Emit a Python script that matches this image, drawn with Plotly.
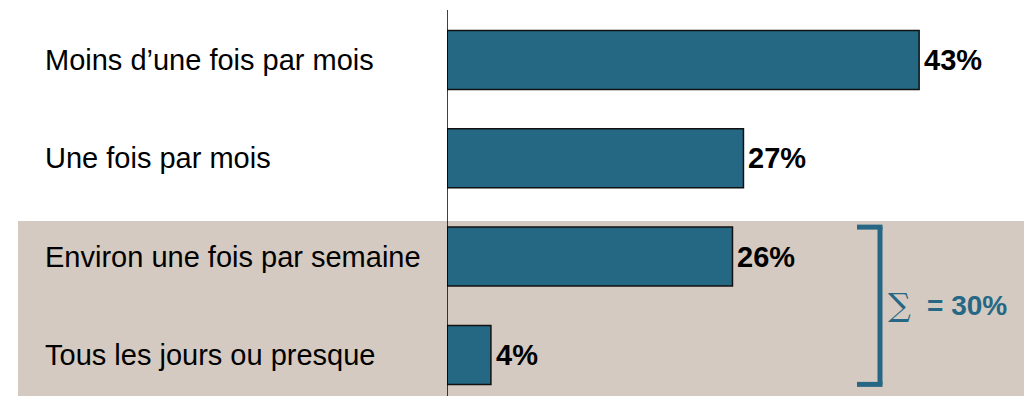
import plotly.graph_objects as go

# Survey answers (top to bottom) and their shares in percent
categories = [
    "Moins d’une fois par mois",
    "Une fois par mois",
    "Environ une fois par semaine",
    "Tous les jours ou presque",
]
values = [43, 27, 26, 4]
# Indices of the answers grouped under the bracket
grouped = [2, 3]

W, H = 1024, 396
BAR_COLOR = "#256884"
BRACKET_COLOR = "#256785"
SHADE = "#D5CAC1"
FONT = "Liberation Sans, Arial"

y_pos = list(range(len(categories)))
px_per_unit = 10.98
x0_px = 447
x_max = (W - x0_px) / px_per_unit

row_px = 98.3
first_center_px = 60
y_top = -first_center_px / row_px
y_bottom = (H - first_center_px) / row_px

fig = go.Figure()
fig.add_trace(go.Bar(
    x=values,
    y=y_pos,
    orientation="h",
    width=0.6,
    marker=dict(color=BAR_COLOR, line=dict(color="#111111", width=1.5)),
    hoverinfo="skip",
))

annotations = []
for yi, (cat, v) in enumerate(zip(categories, values)):
    annotations.append(dict(
        x=43 / W, xref="paper", y=yi, yref="y",
        text=cat, showarrow=False, xanchor="left", yanchor="middle",
        font=dict(family=FONT, size=29, color="#000000"),
    ))
    annotations.append(dict(
        x=v, xref="x", y=yi, yref="y",
        text=f"<b>{v}%</b>", showarrow=False, xanchor="left", yanchor="middle",
        xshift=3,
        font=dict(family=FONT, size=29, color="#000000"),
    ))

total = sum(values[i] for i in grouped)
g_top = min(grouped) - 0.3
g_bot = max(grouped) + 0.3
g_mid = (min(grouped) + max(grouped)) / 2
annotations.append(dict(
    x=886 / W, xref="paper", y=g_mid, yref="y", yshift=1,
    text="∑", showarrow=False, xanchor="left", yanchor="middle",
    font=dict(family="DejaVu Serif", size=32, color=BRACKET_COLOR),
))
annotations.append(dict(
    x=925 / W, xref="paper", y=g_mid, yref="y",
    text=f"<b>= {total}%</b>", showarrow=False, xanchor="left", yanchor="middle",
    font=dict(family=FONT, size=28, color=BRACKET_COLOR),
))

bx0, bx1 = 857 / W, 880 / W
shapes = [
    # shaded band behind the grouped answers
    dict(type="rect", xref="paper", yref="paper",
         x0=18 / W, x1=1, y0=0, y1=(H - 221) / H,
         fillcolor=SHADE, line=dict(width=0), layer="below"),
    # vertical category axis line
    dict(type="line", xref="x", yref="paper",
         x0=0, x1=0, y0=0, y1=(H - 10) / H,
         line=dict(color="#000000", width=1.5), layer="above"),
    # bracket around the grouped answers
    dict(type="line", xref="paper", yref="y",
         x0=bx1, x1=bx1, y0=g_top, y1=g_bot,
         line=dict(color=BRACKET_COLOR, width=5)),
    dict(type="line", xref="paper", yref="y",
         x0=bx0, x1=bx1 + 2.5 / W, y0=g_top, y1=g_top,
         line=dict(color=BRACKET_COLOR, width=5)),
    dict(type="line", xref="paper", yref="y",
         x0=bx0, x1=bx1 + 2.5 / W, y0=g_bot, y1=g_bot,
         line=dict(color=BRACKET_COLOR, width=5)),
]

fig.update_layout(
    width=W, height=H,
    margin=dict(l=0, r=0, t=0, b=0),
    paper_bgcolor="#FFFFFF",
    plot_bgcolor="rgba(0,0,0,0)",
    showlegend=False,
    xaxis=dict(domain=[x0_px / W, 1], range=[0, x_max], visible=False,
               fixedrange=True),
    yaxis=dict(range=[y_bottom, y_top], visible=False, fixedrange=True),
    annotations=annotations,
    shapes=shapes,
)

fig.write_html("out.html", config={"displayModeBar": False})
